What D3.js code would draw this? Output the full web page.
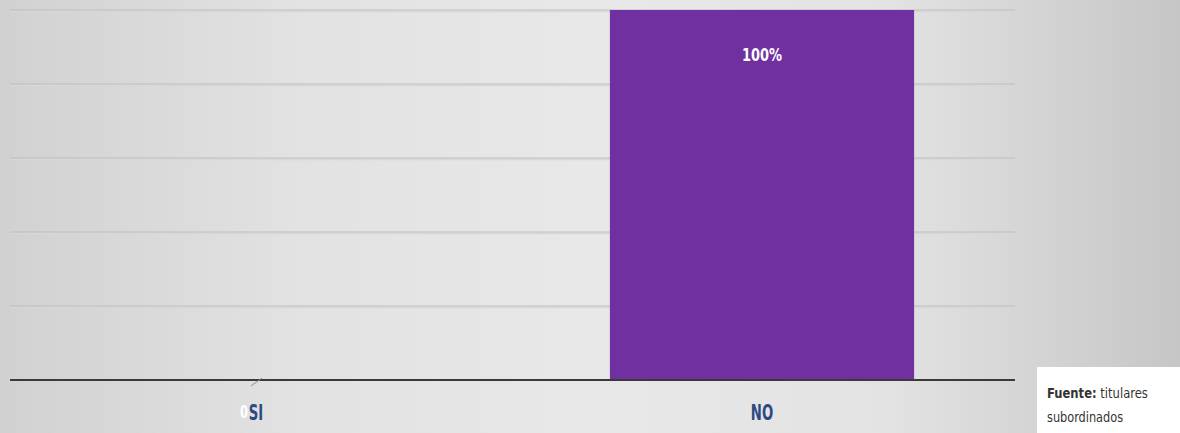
<!DOCTYPE html>
<html>
<head>
<meta charset="utf-8">
<script src="https://cdn.jsdelivr.net/npm/d3@7"></script>
<style>
  html, body { margin: 0; padding: 0; background: #e4e4e4; }
  svg { display: block; }
</style>
</head>
<body>
<svg id="chart" width="1180" height="433"></svg>
<script>
// Respuestas y porcentajes
const categories = ["SI", "NO"];
const values = [0, 1];
const valueLabels = ["0", "100%"];
const yTicks = [0, 0.2, 0.4, 0.6, 0.8, 1.0];
const sourceBold = "Fuente:";
const sourceLines = [" titulares", "subordinados"];

const W = 1180, H = 433;
const svg = d3.select("#chart");
const font = "'Liberation Sans Narrow', 'DejaVu Sans Condensed', 'Roboto Condensed', sans-serif";

// Texto estrecho: se comprime horizontalmente alrededor de su ancla
function narrowText(g, px, py, sx) {
  return g.append("text")
    .attr("transform", `translate(${px},${py}) scale(${sx},1)`)
    .attr("font-family", font);
}

// Fondo con degradado horizontal
const defs = svg.append("defs");
const grad = defs.append("linearGradient").attr("id", "bg").attr("x1", 0).attr("x2", 1).attr("y1", 0).attr("y2", 0);
[[0, "#d1d1d1"], [0.25, "#e2e2e2"], [0.5, "#e8e8e8"], [0.75, "#e3e3e3"], [1, "#c6c6c6"]]
  .forEach(([o, c]) => grad.append("stop").attr("offset", o).attr("stop-color", c));
svg.append("rect").attr("width", W).attr("height", H).attr("fill", "url(#bg)");

const x = d3.scaleBand().domain(categories).range([1.5, 1015.5]).paddingInner(0.4).paddingOuter(0.2);
const y = d3.scaleLinear().domain([0, 1]).range([380, 10]);

// Líneas de cuadrícula
const grid = svg.append("g");
grid.selectAll("line.shadow").data(yTicks.slice(1)).join("line")
  .attr("x1", 10).attr("x2", 1015)
  .attr("y1", d => y(d) + 1.5).attr("y2", d => y(d) + 1.5)
  .attr("stroke", "#d8d8d8").attr("stroke-width", 1.5);
grid.selectAll("line.main").data(yTicks.slice(1)).join("line")
  .attr("x1", 10).attr("x2", 1015)
  .attr("y1", d => y(d)).attr("y2", d => y(d))
  .attr("stroke", "#bdbdbd").attr("stroke-width", 1.2);

// Barras
svg.append("g").selectAll("rect").data(categories).join("rect")
  .attr("x", d => x(d))
  .attr("y", (d, i) => y(values[i]))
  .attr("width", x.bandwidth())
  .attr("height", (d, i) => y(0) - y(values[i]))
  .attr("fill", "#7030a0");

// Eje horizontal
svg.append("line").attr("x1", 10).attr("x2", 1015).attr("y1", y(0)).attr("y2", y(0))
  .attr("stroke", "#3a3a3a").attr("stroke-width", 2);

// Etiquetas de las categorías
const axisG = svg.append("g");
categories.forEach(c => {
  narrowText(axisG, x(c) + x.bandwidth() / 2 + (c === "SI" ? 1 : 0), 420, 0.7)
    .attr("text-anchor", "middle")
    .attr("font-weight", "bold").attr("font-size", 21)
    .attr("fill", "#2b4a80")
    .text(c);
});

// Etiquetas de valor
const labelG = svg.append("g");
categories.forEach((c, i) => {
  const cx = x(c) + x.bandwidth() / 2;
  if (values[i] > 0) {
    narrowText(labelG, cx, y(values[i]) + 51, 0.8)
      .attr("text-anchor", "middle")
      .attr("font-weight", "bold").attr("font-size", 18)
      .attr("fill", "#ffffff").text(valueLabels[i]);
  } else {
    // línea guía hacia la etiqueta del valor cero
    labelG.append("line").attr("x1", cx + 7).attr("y1", y(0) - 2).attr("x2", cx - 4).attr("y2", y(0) + 6)
      .attr("stroke", "#8a8a8a").attr("stroke-width", 1);
    narrowText(labelG, cx - 11, 418, 0.75)
      .attr("text-anchor", "middle")
      .attr("font-weight", "bold").attr("font-size", 17)
      .attr("fill", "#ffffff").text(valueLabels[i]);
  }
});

// Fuente
svg.append("rect").attr("x", 1037).attr("y", 367).attr("width", 143).attr("height", 66).attr("fill", "#ffffff");
const src = narrowText(svg, 1047, 398, 0.92)
  .attr("font-size", 14).attr("fill", "#333");
src.append("tspan").attr("font-weight", "bold").text(sourceBold);
src.append("tspan").text(sourceLines[0]);
narrowText(svg, 1047, 422, 0.9)
  .attr("font-size", 14).attr("fill", "#333").text(sourceLines[1]);
</script>
</body>
</html>
